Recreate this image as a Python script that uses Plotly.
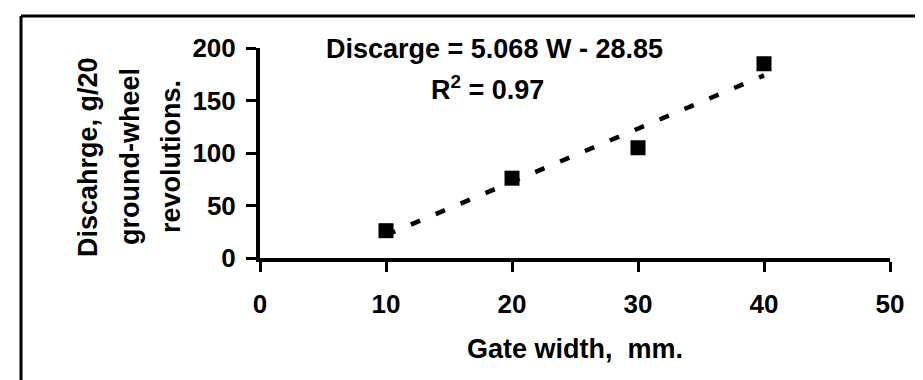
import plotly.graph_objects as go

# Data
gate_width = [10, 20, 30, 40]
discharge = [26, 76, 105, 185]
slope = 5.068
intercept = -28.85
trend_x = [10, 40]
trend_y = [slope * x + intercept for x in trend_x]

x_ticks = [0, 10, 20, 30, 40, 50]
y_ticks = [0, 50, 100, 150, 200]

eq_text = "Discarge = 5.068 W - 28.85"
r2_text = "R<sup>2</sup> = 0.97"
x_title = "Gate width,&nbsp; mm."
y_title_lines = ["Discahrge, g/20", "ground-wheel", "revolutions."]

FONT = "Liberation Sans, Arial, sans-serif"

fig = go.Figure()
fig.add_trace(go.Scatter(
    x=trend_x, y=trend_y, mode="lines",
    line=dict(color="black", width=4.5, dash="10px,17px"),
    hoverinfo="skip", showlegend=False))
fig.add_trace(go.Scatter(
    x=gate_width, y=discharge, mode="markers",
    marker=dict(symbol="square", size=15, color="black"),
    showlegend=False))

L, R, T, B = 252, 41, 40, 130
W, H = 923, 380
pw, ph = W - L - R, H - T - B

def px(xp):
    return (xp - L) / pw

def py(yp):
    return (H - B - yp) / ph

fig.update_layout(
    width=W, height=H,
    margin=dict(l=L, r=R, t=T, b=B),
    paper_bgcolor="white", plot_bgcolor="white",
    font=dict(family=FONT, color="black"),
    xaxis=dict(
        range=[0, 50], tickvals=x_ticks, showgrid=False, zeroline=False,
        showline=True, linecolor="black", linewidth=4,
        ticks="outside", ticklen=10, tickwidth=3, tickcolor="black",
        tickfont=dict(family=FONT, size=26, weight="bold", color="black"),
        ticklabelstandoff=10,
    ),
    yaxis=dict(
        range=[0, 200], tickvals=y_ticks, showgrid=False, zeroline=False,
        showline=True, linecolor="black", linewidth=4,
        ticks="outside", ticklen=10, tickwidth=3, tickcolor="black",
        tickfont=dict(family=FONT, size=26, weight="bold", color="black"),
        ticklabelstandoff=5,
    ),
)

annotations = [
    dict(text=eq_text, x=px(486), y=py(41), xref="paper", yref="paper",
         xanchor="center", yanchor="middle", showarrow=False,
         font=dict(family=FONT, size=27, weight="bold", color="black")),
    dict(text=r2_text, x=px(479), y=py(80), xref="paper", yref="paper",
         xanchor="center", yanchor="middle", showarrow=False,
         font=dict(family=FONT, size=27, weight="bold", color="black")),
    dict(text=x_title, x=px(567), y=py(341), xref="paper", yref="paper",
         xanchor="center", yanchor="middle", showarrow=False,
         font=dict(family=FONT, size=27, weight="bold", color="black")),
]
for xpos, line in zip([80, 122, 163], y_title_lines):
    annotations.append(dict(
        text=line, x=px(xpos), y=py(149), xref="paper", yref="paper",
        xanchor="center", yanchor="middle", showarrow=False, textangle=-90,
        font=dict(family=FONT, size=27, weight="bold", color="black")))
fig.update_layout(annotations=annotations)

# Outer frame
fig.add_shape(type="line", xref="paper", yref="paper",
              x0=px(13), x1=px(13), y0=py(8), y1=py(378),
              line=dict(color="black", width=3))
fig.add_shape(type="line", xref="paper", yref="paper",
              x0=px(13), x1=px(923), y0=py(8), y1=py(8),
              line=dict(color="black", width=3))
fig.add_shape(type="line", xref="paper", yref="paper",
              x0=px(13), x1=px(923), y0=py(378), y1=py(378),
              line=dict(color="#555555", width=2))

fig.write_html("out.html")
